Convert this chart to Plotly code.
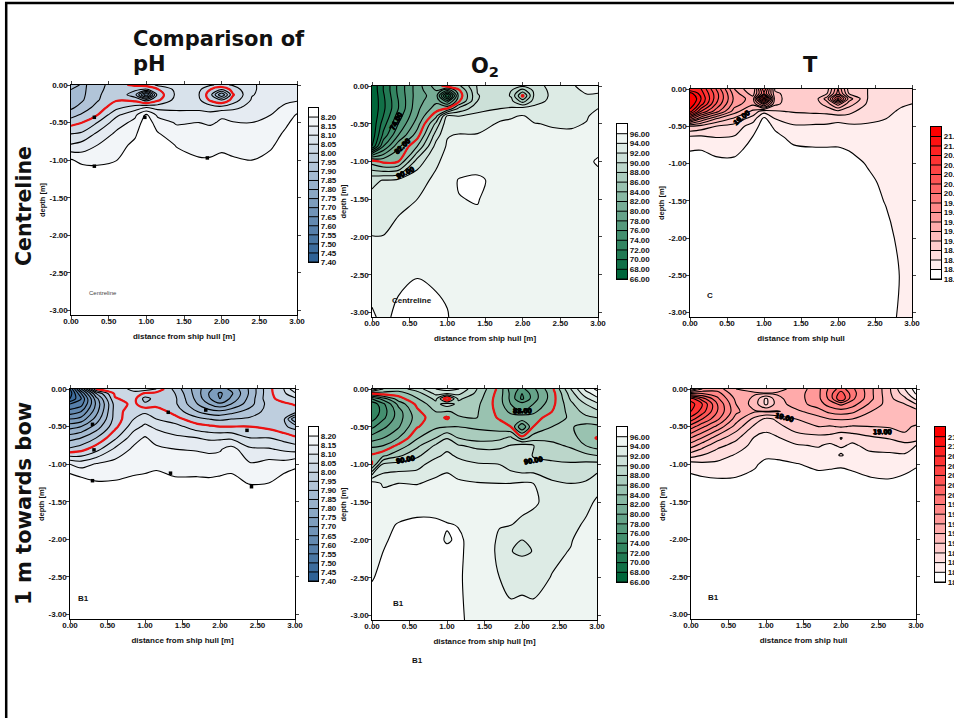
import numpy as np
import plotly.graph_objects as go

W, H = 954, 718

X = [0, .15, .35, .6, .85, 1.0, 1.15, 1.4, 1.7, 1.85, 2.0, 2.15, 2.4, 2.65, 2.85, 3.0]
Y_STD = [0, -.06, -.13, -.2, -.3, -.4, -.5, -.65, -.8, -1, -1.25, -1.5, -2, -2.5, -3.06]
Y_B2 = [0, -.06, -.13, -.2, -.3, -.38, -.5, -.65, -.75, -.88, -1, -1.25, -1.5, -1.8, -2, -2.15, -2.5, -3.06]
Y_B3 = [0, -.06, -.13, -.2, -.3, -.4, -.5, -.65, -.75, -.81, -.88, -1, -1.25, -1.5, -2, -2.5, -3.06]

PH_LEVELS = [round(7.40 + .05 * i, 2) for i in range(17)]
O2_LEVELS = [66 + 2 * i for i in range(16)]
T_LEVELS = [round(18.2 + .2 * i, 1) for i in range(16)]

# each inner list is one column of X, top to bottom
PH_CENTRE = [
 [7.93,7.90,7.88,7.88,7.89,7.93,7.98,8.05,8.105,8.205,8.25,8.27,8.28,8.29,8.3],
 [7.89,7.89,7.89,7.895,7.92,7.96,8.00,8.06,8.12,8.185,8.25,8.27,8.28,8.29,8.3],
 [7.925,7.93,7.94,7.945,7.97,8.00,8.05,8.11,8.15,8.185,8.24,8.26,8.28,8.29,8.3],
 [7.985,7.99,7.99,7.995,8.035,8.09,8.125,8.16,8.175,8.198,8.24,8.26,8.28,8.29,8.3],
 [8.01,7.96,7.92,7.985,8.075,8.14,8.165,8.19,8.215,8.26,8.27,8.28,8.28,8.29,8.3],
 [8.02,7.94,7.7,7.93,8.10,8.21,8.23,8.25,8.26,8.27,8.28,8.28,8.29,8.29,8.3],
 [8.06,7.995,7.97,7.99,8.085,8.14,8.175,8.205,8.23,8.25,8.27,8.28,8.29,8.29,8.3],
 [8.07,8.065,8.06,8.07,8.09,8.115,8.145,8.17,8.197,8.22,8.25,8.27,8.28,8.29,8.3],
 [8.07,8.06,8.05,8.06,8.09,8.115,8.15,8.165,8.18,8.205,8.24,8.26,8.28,8.29,8.3],
 [8.055,8.0,7.97,7.99,8.08,8.115,8.145,8.165,8.18,8.205,8.24,8.26,8.28,8.29,8.3],
 [8.04,7.95,7.8,7.95,8.07,8.145,8.155,8.175,8.19,8.21,8.24,8.26,8.28,8.29,8.3],
 [8.055,8.02,7.995,8.02,8.085,8.135,8.152,8.17,8.185,8.205,8.24,8.26,8.28,8.29,8.3],
 [8.095,8.095,8.097,8.105,8.12,8.135,8.15,8.165,8.18,8.2,8.23,8.26,8.28,8.29,8.3],
 [8.115,8.115,8.12,8.125,8.135,8.15,8.16,8.175,8.19,8.22,8.24,8.26,8.28,8.29,8.3],
 [8.13,8.13,8.135,8.14,8.16,8.175,8.19,8.21,8.23,8.25,8.26,8.27,8.28,8.29,8.3],
 [8.14,8.13,8.14,8.145,8.175,8.205,8.22,8.23,8.24,8.25,8.26,8.27,8.28,8.29,8.3],
]
O2_CENTRE = [
 [66.3,66.2,66.1,66.1,66.1,66.2,66.3,66.6,68,85,91.5,92.6,94.05,95,96.3],
 [70,70,69.7,69.5,69.5,70,71,72.5,76,83.5,92.1,92.9,94.05,94.8,95.5],
 [74.5,74.5,74.3,74,74,75,76,78,81.5,84,92.5,93.6,94.5,95.5,96.5],
 [79,79,79,79.2,79.5,80,81,83,86,91,93.3,94,94.8,95.9,97],
 [83,82,81,81.5,83,85.5,88.5,91,92.8,93.7,94.4,95,95.2,95.6,96.6],
 [85,78,70,77,84.2,92.7,93.5,93.9,94.2,94.6,95.2,95.4,95.5,95.6,96.1],
 [85.5,83.5,82.5,83.5,88.5,92,93.1,94.1,94.5,95,96.1,95.95,95.4,95.3,95.3],
 [90.2,90.1,89.9,90,91.3,92.6,93.3,94.1,94.5,95,96.4,96.08,95.5,95.3,95.2],
 [91.3,91.2,91,91.2,92,93.6,94.2,94.5,94.7,95,95.3,95.2,95,95,95],
 [90.7,90,89.8,90.5,92.3,93.9,94.2,94.5,94.7,95,95.2,95.1,95,95,95],
 [90.3,87,83.5,87,92.9,94.1,94.5,94.6,94.7,94.9,95.1,95.1,95,95,95],
 [91,90.4,90.2,90.8,92.9,93.7,94.05,94.5,94.7,94.9,95.1,95.1,95,95,95],
 [92.8,92.7,92.6,92.8,93.2,93.6,93.9,94.2,94.6,94.9,95.1,95.1,95,95,95],
 [93.9,93.7,93.4,93.4,93.5,93.7,93.85,94.2,94.6,95,95.1,95.1,95,95,95],
 [94.3,94.2,93.9,93.6,93.6,93.9,94.05,94.4,94.8,95.5,95.2,95.1,95,95,95],
 [94.5,94.2,93.8,93.6,94,94.4,94.6,94.9,95.2,96.3,95.2,95.1,95,95,95],
]
T_CENTRE = [
 [20.8,21.3,21.5,21.4,21.1,20.1,19,18.55,18.42,18.3,18.28,18.27,18.26,18.26,18.26],
 [20.8,20.9,21,20.9,20.4,19.6,18.92,18.55,18.41,18.32,18.29,18.27,18.26,18.26,18.26],
 [20.2,20.3,20.3,20.2,19.9,19.2,18.8,18.6,18.47,18.34,18.29,18.27,18.26,18.26,18.26],
 [19.4,19.5,19.55,19.5,19.3,18.95,18.72,18.58,18.45,18.36,18.3,18.27,18.26,18.26,18.26],
 [19,19.1,19.3,19.25,18.95,18.7,18.5,18.39,18.35,18.32,18.3,18.27,18.26,18.26,18.26],
 [20.2,20,20.9,19.9,18.68,18.34,18.3,18.3,18.3,18.3,18.29,18.27,18.26,18.26,18.26],
 [18.95,19.05,19.08,19.05,18.78,18.6,18.44,18.34,18.32,18.3,18.29,18.27,18.26,18.26,18.26],
 [18.87,18.87,18.87,18.87,18.82,18.68,18.58,18.46,18.37,18.34,18.3,18.27,18.26,18.26,18.26],
 [18.88,18.88,18.92,18.9,18.83,18.72,18.56,18.47,18.39,18.34,18.3,18.27,18.26,18.26,18.26],
 [18.9,18.98,19.3,19.1,18.85,18.7,18.56,18.47,18.39,18.34,18.3,18.27,18.26,18.26,18.26],
 [19.6,19.7,20.3,19.5,18.95,18.65,18.55,18.46,18.39,18.35,18.3,18.27,18.26,18.26,18.26],
 [18.9,18.98,19.3,19.1,18.85,18.72,18.55,18.46,18.41,18.35,18.31,18.28,18.26,18.26,18.26],
 [18.8,18.8,18.8,18.77,18.71,18.63,18.58,18.5,18.44,18.41,18.37,18.34,18.3,18.28,18.27],
 [18.75,18.74,18.72,18.7,18.65,18.6,18.55,18.5,18.47,18.45,18.43,18.41,18.35,18.32,18.33],
 [18.75,18.72,18.68,18.63,18.57,18.54,18.52,18.5,18.49,18.48,18.47,18.46,18.44,18.41,18.43],
 [18.8,18.7,18.65,18.6,18.55,18.52,18.5,18.5,18.49,18.48,18.47,18.47,18.46,18.46,18.46],
]
PH_BOW = [
 [7.45,7.42,7.45,7.55,7.62,7.7,7.78,7.88,7.96,8.15,8.25,8.28,8.3,8.3,8.3],
 [7.7,7.6,7.55,7.58,7.65,7.72,7.8,7.9,7.98,8.13,8.23,8.27,8.3,8.3,8.3],
 [8.0,7.85,7.78,7.76,7.78,7.82,7.87,7.95,8.03,8.155,8.205,8.26,8.3,8.3,8.3],
 [8.03,8.01,7.995,7.97,7.97,7.97,7.985,8.04,8.11,8.17,8.205,8.26,8.3,8.3,8.3],
 [8.06,8.04,8.02,8.015,8.04,8.05,8.08,8.13,8.16,8.185,8.21,8.26,8.3,8.3,8.3],
 [8.08,7.99,7.93,7.96,8.04,8.08,8.11,8.155,8.17,8.19,8.21,8.26,8.3,8.3,8.3],
 [8.05,7.98,7.97,7.98,8.03,8.05,8.09,8.13,8.16,8.195,8.21,8.26,8.3,8.3,8.3],
 [7.93,7.95,7.96,7.96,7.98,8.02,8.07,8.11,8.15,8.18,8.21,8.26,8.3,8.3,8.3],
 [7.82,7.82,7.83,7.85,7.9,7.965,8.02,8.1,8.145,8.18,8.21,8.26,8.3,8.3,8.3],
 [7.76,7.75,7.76,7.8,7.87,7.95,8.01,8.09,8.14,8.175,8.21,8.26,8.3,8.3,8.3],
 [7.73,7.69,7.7,7.76,7.86,7.94,8.0,8.09,8.145,8.175,8.215,8.26,8.3,8.3,8.3],
 [7.76,7.74,7.76,7.8,7.88,7.95,8.0,8.09,8.17,8.18,8.22,8.26,8.3,8.3,8.3],
 [7.86,7.86,7.87,7.88,7.92,7.96,8.0,8.05,8.11,8.155,8.195,8.26,8.3,8.3,8.3],
 [7.985,7.985,7.985,7.97,7.97,7.97,7.985,8.05,8.105,8.17,8.2,8.26,8.3,8.3,8.3],
 [8.05,8.04,8.02,7.99,7.96,7.96,7.96,8.03,8.09,8.17,8.23,8.27,8.3,8.3,8.3],
 [8.14,8.09,8.04,8.005,7.98,7.8,7.93,8.01,8.08,8.19,8.23,8.27,8.3,8.3,8.3],
]
O2_BOW = [
 [92,84,76,72.5,72,73,75.5,79,81.5,84.3,83.8,95,95.6,95.7,95.9,95.95,95.95,96.5],
 [88,85,79,75.5,75,75.5,77.5,80,82,85.5,90.5,93.7,95.1,95.6,95.8,96.0,96.2,96.6],
 [87,85,83,80.5,79,79,79.7,82,84.5,87.5,90.8,94,95.1,96.1,96.4,96.4,96.5,96.6],
 [89,87,85.8,84.5,83.5,83,83.8,85.8,87.5,89.6,91.2,93.9,95.4,96.3,96.5,96.6,96.6,96.7],
 [92,90.5,88.5,87.3,86,85.2,85.6,88,90.3,91.5,93.1,94.4,95.4,96.25,96.4,96.4,96.4,96.5],
 [93,90,82,89,85.9,83.6,85.9,89.9,91.2,92.5,93.6,94.5,95.1,96.1,95.85,96.3,96.4,96.4],
 [92.2,90.5,88.3,87.5,86.2,85.9,86,88,90.2,91.6,92.9,94.3,95,95.95,96.2,96.2,96.2,96.2],
 [88,87.5,87,86.5,86.2,86,85.7,87,89.5,91,92.2,94.1,94.9,95.3,95.5,95.5,95.3,95.6],
 [83.3,83,82.8,82.9,83.3,83.7,85,87.5,89.5,91,92,94,94.5,94.1,93.7,93.6,94,94.7],
 [79,79.5,79.5,80,81.5,83,84,88.5,90.1,90.5,91,94,94.6,94.05,92.3,92.05,93.2,94.8],
 [77.5,76,75.5,79,80,83.8,78,85,91,90.9,90.2,94.2,94.6,93.6,92,91.7,93.3,95],
 [79.5,79,79,80,81.5,83,84,87,90.1,89.9,90.4,94,94.3,93.3,92.3,92.05,93.2,94.8],
 [83.5,83,83,83.3,84,85,86,87.5,88.5,89.3,90.5,92.3,93.3,93.3,93.4,93.5,94.1,95],
 [90,89,88.3,87.5,86.8,86.3,86.2,86.7,87.7,89,90.3,92,93.3,93.6,93.85,94.1,95,95.3],
 [94.5,93.2,91.5,90,88.7,87.5,85.3,85.2,86,88.5,90.6,92.2,93.6,94.2,95,95.2,95.4,95.6],
 [96.5,95,93.5,91.5,89.5,88,85.5,83.8,85,88,90.7,93.5,94.2,94.9,95.2,95.3,95.6,95.8],
]
T_BOW = [
 [19,19.8,20.7,20.9,20.8,20.5,20.1,19.6,19.3,19.1,18.9,18.5,18.3,18.28,18.26,18.26,18.26],
 [19.4,19.8,20.3,20.6,20.5,20.2,19.85,19.4,19.1,18.95,18.8,18.55,18.32,18.28,18.26,18.26,18.26],
 [19.5,19.7,19.85,20,20,19.85,19.55,19.1,18.87,18.78,18.7,18.55,18.35,18.28,18.26,18.26,18.26],
 [19.2,19.25,19.35,19.4,19.45,19.3,19.12,18.85,18.72,18.65,18.58,18.49,18.36,18.28,18.26,18.26,18.26],
 [19.15,19.22,19.15,19.1,19.22,18.93,18.75,18.58,18.53,18.5,18.47,18.42,18.34,18.28,18.26,18.26,18.26],
 [19,19.22,18.75,18.75,19.22,18.75,18.65,18.55,18.5,18.47,18.43,18.36,18.3,18.28,18.26,18.26,18.26],
 [19.15,19.22,19.15,19.1,19.21,18.83,18.75,18.58,18.53,18.48,18.43,18.37,18.3,18.28,18.26,18.26,18.26],
 [19.25,19.3,19.3,19.3,19.15,19,18.88,18.72,18.58,18.54,18.49,18.39,18.32,18.28,18.26,18.26,18.26],
 [19.55,19.55,19.55,19.5,19.32,19.12,19,18.73,18.62,18.57,18.52,18.44,18.32,18.28,18.26,18.26,18.26],
 [19.85,19.9,19.85,19.7,19.45,19.2,18.98,18.72,18.56,18.54,18.52,18.43,18.32,18.28,18.26,18.26,18.26],
 [20.1,20.3,20.4,19.85,19.5,19.22,19.02,18.59,18.64,18.56,18.62,18.42,18.32,18.28,18.26,18.26,18.26],
 [19.85,19.9,19.85,19.7,19.45,19.2,18.98,18.68,18.56,18.54,18.52,18.44,18.33,18.28,18.26,18.26,18.26],
 [19.45,19.45,19.45,19.35,19.2,19.1,19,18.77,18.68,18.62,18.55,18.49,18.36,18.28,18.26,18.26,18.26],
 [19.02,19.03,19.05,19.1,19.05,19.03,19.02,18.82,18.68,18.63,18.57,18.47,18.38,18.28,18.26,18.26,18.26],
 [18.6,18.7,18.85,19,19.15,19.12,19.08,18.92,18.73,18.65,18.58,18.47,18.34,18.28,18.26,18.26,18.26],
 [18.3,18.38,18.55,18.8,19.1,19.2,18.95,18.95,18.6,18.56,18.52,18.42,18.32,18.28,18.26,18.26,18.26],
]

MARKS_PH_CENTRE_X = [.31, .98, .31, 1.81]
MARKS_PH_CENTRE_Y = [-.43, -.43, -1.08, -.97]
MARKS_PH_BOW_X = [.3, .32, 1.31, 1.81, 2.36, .3, 1.34, 2.42]
MARKS_PH_BOW_Y = [-.47, -.81, -.31, -.28, -.55, -1.22, -1.12, -1.3]

Y_TICKS = [0, -.5, -1, -1.5, -2, -2.5, -3]
Y_TICKTEXT = ["0.00", "-0.50", "-1.00", "-1.50", "-2.00", "-2.50", "-3.00"]
X_TICKS = [0, .5, 1, 1.5, 2, 2.5, 3]

BLUE = (47, 98, 150)
GREEN = (0, 102, 58)
RED = (255, 0, 0)
FONT = "Liberation Sans"
TITLE_FONT = "DejaVu Sans"


def rgb(c):
    return "rgb(%d,%d,%d)" % c


def mix(dark, f):
    return tuple(round(255 + (d - 255) * f) for d in dark)


def band_scale(colour_low, colour_high, n):
    p = 1 / n
    return [[0, colour_low], [p, colour_low], [1, colour_high]]


PANELS = [
 dict(z=PH_CENTRE, y=Y_STD, lv=PH_LEVELS, dark=BLUE, low_dark=True, red=8.0, box=(71, 85, 297, 315), bar=(308.5, 108, 318, 262),
      xt="distance from ship hull [m]", xs=(MARKS_PH_CENTRE_X, MARKS_PH_CENTRE_Y)),
 dict(z=O2_CENTRE, y=Y_STD, lv=O2_LEVELS, dark=GREEN, low_dark=True, red=84, box=(372, 86, 598, 317), bar=(617, 124, 627, 279),
      xt="distance from ship hull [m]", xs=None),
 dict(z=T_CENTRE, y=Y_STD, lv=T_LEVELS, dark=RED, low_dark=False, red=None, box=(690, 89, 912, 317), bar=(931, 127, 941, 279),
      xt="distance from ship hull", xs=None),
 dict(z=PH_BOW, y=Y_STD, lv=PH_LEVELS, dark=BLUE, low_dark=True, red=8.0, box=(70, 389, 295, 619), bar=(308.5, 427, 318, 581),
      xt="distance from ship hull [m]", xs=(MARKS_PH_BOW_X, MARKS_PH_BOW_Y)),
 dict(z=O2_BOW, y=Y_B2, lv=O2_LEVELS, dark=GREEN, low_dark=True, red=84, box=(372, 389, 597, 620), bar=(617, 427, 627, 582),
      xt="distance from ship hull [m]", xs=None),
 dict(z=T_BOW, y=Y_B3, lv=T_LEVELS, dark=RED, low_dark=False, red=None, box=(691, 389, 916, 619), bar=(935, 427, 945, 582),
      xt="distance from ship hull", xs=None),
]

fig = go.Figure()
layout = dict(width=W, height=H, margin=dict(l=0, r=0, t=0, b=0, autoexpand=False), paper_bgcolor="white", plot_bgcolor="white",
              showlegend=False, font=dict(family=FONT, color="black"))

for i, p in enumerate(PANELS):
    n1, n2 = 2 * i + 1, 2 * i + 2
    lv = p["lv"]
    d = round(lv[1] - lv[0], 3)
    nb = len(lv)
    y = p["y"][::-1]
    z = np.array(p["z"]).T[::-1]
    if p["low_dark"]:
        scale = band_scale(rgb(p["dark"]), "rgb(255,255,255)", nb)
        bands = [mix(p["dark"], 1 - k / (nb - 1)) for k in range(nb)]
    else:
        scale = band_scale("rgb(255,255,255)", rgb(p["dark"]), nb)
        bands = [mix(p["dark"], k / (nb - 1)) for k in range(nb)]
    fig.add_trace(go.Contour(x=X, y=y, z=z, xaxis="x%d" % n1, yaxis="y%d" % n1, autocontour=False,
                             contours=dict(start=lv[0], end=lv[-1], size=d, coloring="fill"),
                             colorscale=scale, showscale=False, hoverinfo="skip",
                             line=dict(color="black", width=1.1, smoothing=.9)))
    if p["red"] is not None:
        fig.add_trace(go.Contour(x=X, y=y, z=z, xaxis="x%d" % n1, yaxis="y%d" % n1, autocontour=False,
                                 contours=dict(start=p["red"], end=p["red"], size=d, coloring="none"),
                                 showscale=False, hoverinfo="skip",
                                 line=dict(color="#ee1111", width=2.2, smoothing=.9)))
    if p["xs"]:
        fig.add_trace(go.Scatter(x=p["xs"][0], y=p["xs"][1], mode="markers", xaxis="x%d" % n1, yaxis="y%d" % n1,
                                 marker=dict(symbol="square", size=3.5, color="black"), hoverinfo="skip"))
    x0, y0, x1, y1 = p["box"]
    af = dict(family=FONT, size=8, color="#111", weight="bold")
    layout["xaxis%d" % n1] = dict(domain=[x0 / W, x1 / W], range=[0, 3], anchor="y%d" % n1, tickvals=X_TICKS, tickformat=".2f",
                                  ticks="outside", ticklen=2.5, tickwidth=1, mirror="allticks", showline=True, linecolor="black",
                                  linewidth=1.3, showgrid=False, zeroline=False, tickfont=af, ticklabelstandoff=-4,
                                  title=dict(text=p["xt"], font=af, standoff=8))
    layout["yaxis%d" % n1] = dict(domain=[1 - y1 / H, 1 - y0 / H], range=[-3.06, 0], anchor="x%d" % n1, tickvals=Y_TICKS, ticktext=Y_TICKTEXT,
                                  ticks="outside", ticklen=2.5, tickwidth=1, mirror="allticks", showline=True, linecolor="black",
                                  linewidth=1.3, showgrid=False, zeroline=False, tickfont=af, ticklabelstandoff=-2,
                                  title=dict(text="depth [m]", font=dict(family=FONT, size=7.5, color="#111", weight="bold"), standoff=2))
    bx0, by0, bx1, by1 = p["bar"]
    edges = lv + [round(lv[-1] + d, 3)]
    zb = [[k] for k in range(nb)]
    cs = [[k / (nb - 1), rgb(bands[k])] for k in range(nb)]
    fig.add_trace(go.Heatmap(x=[0, 1], y=edges, z=zb, zmin=0, zmax=nb - 1, colorscale=cs, showscale=False,
                             xaxis="x%d" % n2, yaxis="y%d" % n2, hoverinfo="skip"))
    lx, ly = [], []
    for v in lv:
        lx += [0, 1, None]
        ly += [v, v, None]
    fig.add_trace(go.Scatter(x=lx, y=ly, mode="lines", line=dict(color="black", width=1), xaxis="x%d" % n2, yaxis="y%d" % n2, hoverinfo="skip"))
    layout["xaxis%d" % n2] = dict(domain=[bx0 / W, bx1 / W], range=[0, 1], anchor="y%d" % n2, showticklabels=False, ticks="",
                                  showline=True, mirror=True, linecolor="black", linewidth=1.3, showgrid=False, zeroline=False)
    layout["yaxis%d" % n2] = dict(domain=[1 - by1 / H, 1 - by0 / H], range=[edges[0], edges[-1]], anchor="x%d" % n2, side="right",
                                  tickvals=lv, tickformat=".2f", ticks="", showline=True, mirror=True, linecolor="black", linewidth=1.3,
                                  showgrid=False, zeroline=False, tickfont=dict(family=FONT, size=8, color="#111", weight="bold"))


def note(text, xp, yp, size=8, angle=0, fam=FONT, bold=True, color="#111", xanchor="center"):
    return dict(text=text, x=xp / W, y=1 - yp / H, xref="paper", yref="paper", showarrow=False, textangle=angle,
                xanchor=xanchor, yanchor="middle", font=dict(family=fam, size=size, color=color, weight="bold" if bold else "normal"))


def label(text, xv, yv, axis, angle=0, size=7.5):
    return dict(text=text, x=xv, y=yv, xref="x%d" % axis, yref="y%d" % axis, showarrow=False, textangle=angle,
                font=dict(family=FONT, size=size, color="black", weight="bold",
                          shadow="0.5px 0 0 black, -0.5px 0 0 black, 0 0.5px 0 black, 0 -0.5px 0 black"))


layout["annotations"] = [
    note("Comparison of", 131, 39, size=21, fam=TITLE_FONT, xanchor="left"),
    note("pH", 131, 64, size=21, fam=TITLE_FONT, xanchor="left"),
    note("O<sub>2</sub>", 485, 67, size=21, fam=TITLE_FONT),
    note("T", 810, 65, size=21, fam=TITLE_FONT),
    note("Centreline", 24, 206, size=20.5, angle=-90, fam=TITLE_FONT),
    note("1 m towards bow", 24, 504, size=21, angle=-90, fam=TITLE_FONT),
    note("Centreline", 102.5, 293, size=6, bold=False, color="#444"),
    note("Centreline", 412, 300, size=8),
    note("C", 710, 295, size=8),
    note("B1", 83, 598, size=8),
    note("B1", 398, 603, size=8),
    note("B1", 417, 660, size=8),
    note("B1", 713, 597, size=8),
    label("74.00", .32, -.47, 3, -62),
    label("82.00", .4, -.8, 3, -45),
    label("90.00", .45, -1.15, 3, -25),
    label("19.00", .7, -.38, 5, -40),
    label("82.00", 2.0, -.28, 9, 0),
    label("90.00", .45, -.93, 9, -10),
    label("90.00", 2.15, -.95, 9, -10),
    label("19.00", 1.25, -.38, 11, 15),
    label("19.00", 2.55, -.57, 11, 0),
]
layout["shapes"] = [
    dict(type="line", xref="paper", yref="paper", x0=6.2 / W, x1=6.2 / W, y0=0, y1=1 - 2 / H, line=dict(color="black", width=2.5)),
    dict(type="line", xref="paper", yref="paper", x0=5 / W, x1=1, y0=1 - 3 / H, y1=1 - 3 / H, line=dict(color="black", width=2.5)),
]
fig.update_layout(**layout)
fig.write_html("out.html", config=dict(displayModeBar=False), post_script="document.body.style.margin='0';")
